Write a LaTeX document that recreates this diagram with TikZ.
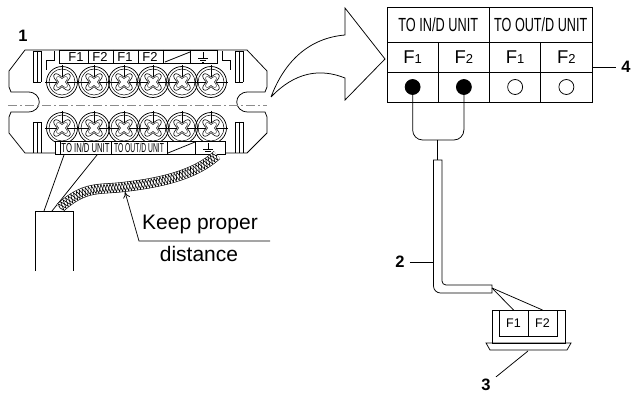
\documentclass[tikz,border=0pt]{standalone}
\usepackage{fontspec}
\setmainfont{Liberation Sans}
\usetikzlibrary{shapes,arrows,arrows.meta,positioning,decorations.pathmorphing}
\tikzstyle{Cell} = [draw, rectangle, outer sep=0pt, inner sep=0pt, minimum width=51.25pt, minimum height=30pt]
\tikzstyle{Head} = [Cell, minimum width=102.5pt, minimum height=35pt, font=\fontsize{19}{20}\selectfont]
\tikzstyle{Pin} = [Cell, font=\fontsize{18.5}{20}\selectfont]
\tikzstyle{Dot} = [draw, circle, inner sep=0pt, minimum size=15pt]
\tikzstyle{Num} = [inner sep=5pt, font=\fontsize{16.5}{18}\selectfont\bfseries]
\tikzstyle{Note} = [inner sep=0pt, font=\fontsize{21}{24}\selectfont]
\tikzstyle{Tag} = [inner sep=0pt, font=\fontsize{13}{14}\selectfont]
\tikzstyle{Unit} = [draw, rectangle, outer sep=0pt, inner sep=0pt, minimum width=29pt, minimum height=26pt, font=\fontsize{12.5}{14}\selectfont]
\tikzstyle{Centre} = [line width=.4pt, black!45, dash pattern=on 9pt off 3pt on 2pt off 3pt]
\tikzset{screwhead/.pic={
    \draw (0,0) circle (15.5);
    \draw[line width=.5pt] (0,0) circle (13);
    \draw[line width=.6pt] plot[domain=0:360,samples=41,smooth] (\x:{7.8-3*cos(4*\x)});
    \draw[line width=.35pt] plot[domain=0:360,samples=41,smooth] (\x:{5.2-1.8*cos(4*\x)});
    \draw[line width=.4pt] (-17,0) -- (-5,0) (5,0) -- (17,0);
    \draw[line width=.4pt] (0,-17) -- (0,-5);
}}
\newcommand{\BraidPath}{(60,208) .. controls (85,185) and (100,190) .. (123,187) .. controls (160,183) and (195,175) .. (217,155)}
\begin{document}
\begin{tikzpicture}[x=1pt,y=-1pt,line width=.75pt]
    \useasboundingbox (0,0) rectangle (631,395);
    % terminal block
    \draw (33,50) -- (25,50) -- (9,71) -- (9,87) -- (11,92) -- (28,92)
          .. controls (43,92) and (43,112) .. (28,112) -- (11,112) -- (9,117) -- (9,133) -- (25,153)
          -- (247,153) -- (267,133) -- (267,117) -- (265,112) -- (248,112)
          .. controls (233,112) and (233,92) .. (248,92) -- (265,92) -- (267,87) -- (267,71) -- (247,50) -- cycle;
    \draw[Centre] (8,105) -- (267,105);
    \foreach \xpos in {33,37,41,235,239,243} {
      \draw[line width=.6pt] (\xpos,51) -- (\xpos,82);
      \draw[line width=.6pt] (\xpos,122) -- (\xpos,153);
    }
    \draw (33,51) -- (41,51) (33,82) -- (41,82) (33,122) -- (41,122) (235,51) -- (243,51) (235,82) -- (243,82) (235,122) -- (243,122);
    \draw (46,70) -- (46,60) -- (54,60) -- (54,51);
    \draw (230,70) -- (230,60) -- (222,60) -- (222,51);
    \foreach \xpos in {62,94,124,153,182,211} {
      \pic at (\xpos,82) {screwhead};
      \pic at (\xpos,128) {screwhead};
    }
    % label strips
    \draw[fill=white] (59,50) rectangle (217,63);
    \foreach \xpos in {88,113,138,163,190} \draw (\xpos,50) -- (\xpos,63);
    \draw (165,62) -- (190,52);
    \node[Tag] (ta) at (76,57) {F1};
    \node[Tag] (tb) at (100,57) {F2};
    \node[Tag] (tc) at (125,57) {F1};
    \node[Tag] (td) at (150,57) {F2};
    \draw (203,52) -- (203,58) (198,58) -- (208,58) (200,60) -- (206,60) (202,62) -- (204,62);
    \draw[fill=white] (55,141) rectangle (225,154);
    \draw (60,141) -- (60,154);
    \foreach \xpos in {111,167,195} \draw (\xpos,141) -- (\xpos,154);
    \draw (168,153) -- (195,142);
    \node[Tag] (tin) at (85.5,148) {\scalebox{.59}[1]{TO IN/D UNIT}};
    \node[Tag] (tout) at (139,148) {\scalebox{.52}[1]{TO OUT/D UNIT}};
    \draw (208,143) -- (208,149) (203,149) -- (213,149) (205,151) -- (211,151);
    \node[Num] (one) at (23,36) {1};
    % cable and wires
    \draw (35,271) -- (35,211) -- (73,211) -- (73,271);
    \coordinate (wa) at (44,211);
    \coordinate (wb) at (52,211);
    \coordinate (sa) at (64,155);
    \coordinate (sb) at (97,155);
    \draw (wa) -- (sa);
    \draw (wb) -- (sb);
    \draw[line width=10pt] \BraidPath;
    \draw[line width=8.8pt, white] \BraidPath;
    \draw[line width=.6pt, decorate, decoration={zigzag,amplitude=4.2pt,segment length=6pt}] \BraidPath;
    \draw[line width=.6pt, decorate, decoration={zigzag,amplitude=4.2pt,segment length=6pt,mirror}] \BraidPath;
    \node[Note] (keep) at (200,224) {Keep proper};
    \node[Note] (dist) at (199,254) {distance};
    \coordinate (ruleend) at (270,241);
    \coordinate (rulebend) at (139,241);
    \coordinate (braid) at (125,192);
    \draw[-{To[length=6pt,width=7pt]}] (ruleend) -- (rulebend) -- (braid);
    % curved arrow
    \draw (271,97) .. controls (285,60) and (310,38) .. (345,35) -- (345,8) -- (385,59)
          -- (345,100) -- (345,78) .. controls (320,68) and (295,72) .. (271,97);
    % table
    \node[Head] (toin) at (438.25,24.5) {\scalebox{.67}[1]{TO IN/D UNIT}};
    \node[Head] (toout) [right=0pt of toin] {\scalebox{.665}[1]{TO OUT/D UNIT}};
    \node[Pin] (fa) [below right=0pt of toin.south west] {F{\fontsize{13}{14}\selectfont 1}};
    \node[Pin] (fb) [right=0pt of fa] {F{\fontsize{13}{14}\selectfont 2}};
    \node[Pin] (fc) [right=0pt of fb] {F{\fontsize{13}{14}\selectfont 1}};
    \node[Pin] (fd) [right=0pt of fc] {F{\fontsize{13}{14}\selectfont 2}};
    \node[Cell] (ca) [below=0pt of fa] {};
    \node[Cell] (cb) [below=0pt of fb] {};
    \node[Cell] (cc) [below=0pt of fc] {};
    \node[Cell] (cd) [below=0pt of fd] {};
    \node[Dot, fill=black] (da) at (ca) {};
    \node[Dot, fill=black] (db) at (cb) {};
    \node[Dot] (dc) at (cc) {};
    \node[Dot] (dd) at (cd) {};
    \node[Num] (four) at (626,67) {4};
    \coordinate (tabedge) at (592,67);
    \draw (tabedge) -- (four);
    % feed cable
    \coordinate (join) at (437.5,140);
    \coordinate (captop) at (437.5,160);
    \draw[rounded corners=10pt] (da) |- (join) -| (db);
    \draw (join) -- (captop);
    \draw (433.5,160) -- (433.5,283) [rounded corners=7pt] -- (433.5,293) [sharp corners] -- (492,293) -- (492,285) [rounded corners=4pt] -- (442,285) [sharp corners] -- (442,160) -- cycle;
    \node[Num] (two) at (400,262) {2};
    \coordinate (cableleft) at (433.5,262);
    \draw (two) -- (cableleft);
    % indoor unit
    \draw (492,310) rectangle (565,343);
    \node[Unit] (ua) at (513.5,323) {F1};
    \node[Unit] (ub) [right=0pt of ua] {F2};
    \coordinate (cableend) at (492,288);
    \draw (cableend) -- (ua.north);
    \draw (cableend) -- (ub.north);
    \draw (486,343) -- (571,343) -- (567,350) -- (490,350) -- cycle;
    \node[Num] (three) at (486,385) {3};
    \coordinate (flange) at (528,351);
    \draw (flange) -- (three);
\end{tikzpicture}
\end{document}
